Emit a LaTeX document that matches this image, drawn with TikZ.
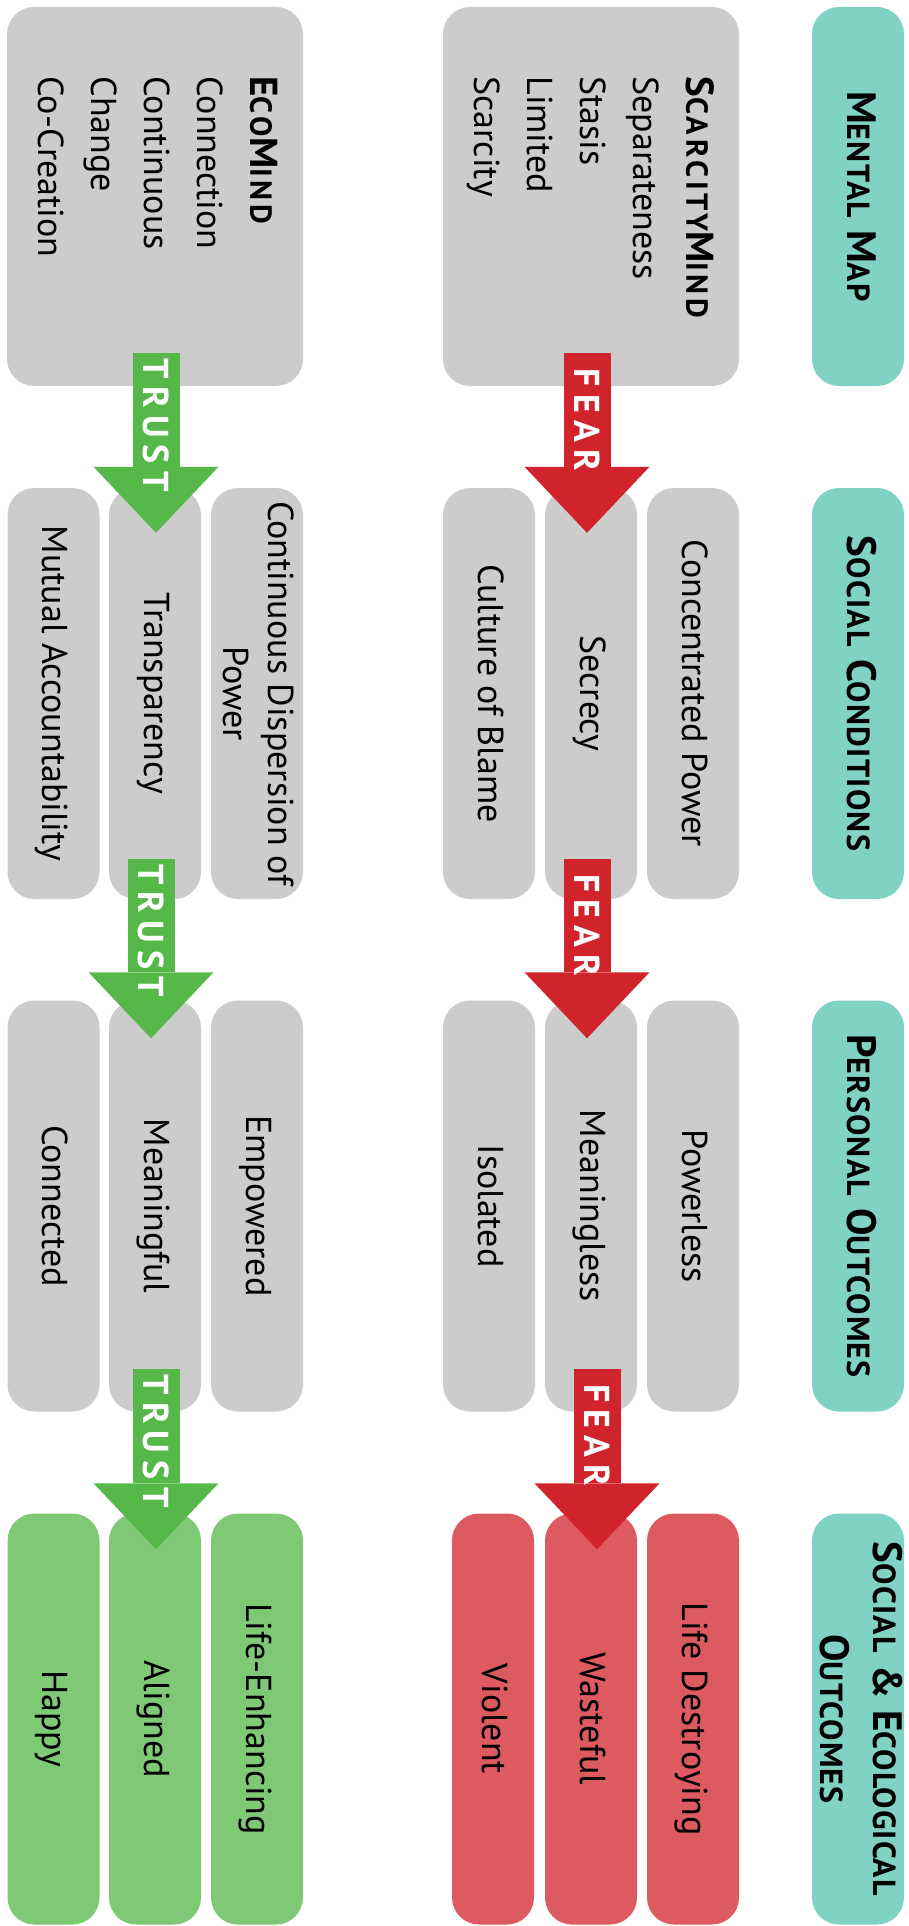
\documentclass[tikz,border=0pt]{standalone}
\usepackage{fontspec}
\setmainfont{PT Sans}
\usepackage{graphicx}
\usetikzlibrary{arrows.meta,calc}

\definecolor{boxgray}{HTML}{CCCCCC}
\definecolor{headteal}{HTML}{80D2C4}
\definecolor{redbox}{HTML}{DD5B60}
\definecolor{greenbox}{HTML}{7EC876}
\definecolor{fearred}{HTML}{D0232B}
\definecolor{trustgreen}{HTML}{57B84A}

\newcommand{\bodyfont}{\fontsize{36}{53}\selectfont}
\newcommand{\headfont}{\fontsize{41}{53}\selectfont\bfseries\addfontfeatures{LetterSpace=4}}
\newcommand{\mindfont}{\fontsize{39}{53}\selectfont\bfseries\addfontfeatures{LetterSpace=13}}
\newcommand{\arrowfont}{\fontsize{36}{36}\selectfont\bfseries\addfontfeatures{LetterSpace=20}}
% fake small caps: big letter, then smaller capitals
\makeatletter
\newcommand{\fsc}[2]{#1{\fontsize{\strip@pt\dimexpr0.78\dimexpr\f@size pt\relax\relax}{10}\selectfont #2}}
\makeatother
\newcommand{\vtext}[2][c]{\makebox[0pt]{\rotatebox{-90}{\begin{tabular}{@{}#1@{}}#2\end{tabular}}}}

\begin{document}
\begin{tikzpicture}[x=1pt, y=-1pt,
    box/.style={rounded corners=27pt, inner sep=0pt, font=\bodyfont,
      minimum width=92pt, minimum height=411pt},
    graybox/.style={box, fill=boxgray},
    headbox/.style={box, fill=headteal, font=\headfont},
    redcell/.style={box, fill=redbox},
    greencell/.style={box, fill=greenbox},
    fear/.style={draw=fearred, line width=47pt,
      -{Triangle[width=125pt, length=66pt, line width=0pt, color=fearred]}},
    trust/.style={draw=trustgreen, line width=47pt,
      -{Triangle[width=125pt, length=66pt, line width=0pt, color=trustgreen]}},
    arrowlabel/.style={rotate=-90, inner sep=0pt, text=white, font=\arrowfont}]

    \path[use as bounding box, fill=white] (0,0) rectangle (908,1926);

    % Header column
    \node[headbox, minimum height=379pt] (mental) at (858,196.5) {\vtext{\fsc{M}{ENTAL} \fsc{M}{AP}}};
    \node[headbox] (social) at (858,693.5) {\vtext{\fsc{S}{OCIAL} \fsc{C}{ONDITIONS}}};
    \node[headbox] (personal) at (858,1206) {\vtext{\fsc{P}{ERSONAL} \fsc{O}{UTCOMES}}};
    \node[headbox] (ecological) at (858,1719) {\vtext{\fsc{S}{OCIAL} \& \fsc{E}{COLOGICAL}\\\fsc{O}{UTCOMES}}};

    % Mental maps
    \node[graybox, minimum width=296pt, minimum height=379pt] (scarcity) at (591,196.5)
      {\vtext[p{240pt}]{{\mindfont\fsc{S}{CARCITY}\fsc{M}{IND}}\\Separateness\\Stasis\\Limited\\Scarcity}};
    \node[graybox, minimum width=296pt, minimum height=379pt] (ecomind) at (155,196.5)
      {\vtext[p{240pt}]{{\mindfont\fsc{E}{CO}\fsc{M}{IND}}\\Connection\\Continuous\\Change\\Co-Creation}};

    % Social conditions
    \node[graybox] (blame) at (489,693.5) {\vtext{Culture of Blame}};
    \node[graybox] (secrecy) at (591,693.5) {\vtext{Secrecy}};
    \node[graybox] (concentrated) at (693,693.5) {\vtext{Concentrated Power}};
    \node[graybox] (accountability) at (53.5,693.5) {\vtext{Mutual Accountability}};
    \node[graybox] (transparency) at (155,693.5) {\vtext{Transparency}};
    \node[graybox] (dispersion) at (257,693.5) {\vtext{Continuous Dispersion of\\[-8pt]Power}};

    % Personal outcomes
    \node[graybox] (isolated) at (489,1206) {\vtext{Isolated}};
    \node[graybox] (meaningless) at (591,1206) {\vtext{Meaningless}};
    \node[graybox] (powerless) at (693,1206) {\vtext{Powerless}};
    \node[graybox] (connected) at (53.5,1206) {\vtext{Connected}};
    \node[graybox] (meaningful) at (155,1206) {\vtext{Meaningful}};
    \node[graybox] (empowered) at (257,1206) {\vtext{Empowered}};

    % Social and ecological outcomes
    \node[redcell, minimum width=82pt] (violent) at (493,1719) {\vtext{Violent}};
    \node[redcell] (wasteful) at (591,1719) {\vtext{Wasteful}};
    \node[redcell] (destroying) at (693,1719) {\vtext{Life Destroying}};
    \node[greencell] (happy) at (53.5,1719) {\vtext{Happy}};
    \node[greencell] (aligned) at (155,1719) {\vtext{Aligned}};
    \node[greencell] (enhancing) at (257,1719) {\vtext{Life-Enhancing}};

    % Arrows
    \draw[fear] ($(scarcity.south)+(-4,-33)$) -- ($(secrecy.north)+(-4,45)$) node[arrowlabel, pos=0.37] {FEAR};
    \draw[trust] ($(ecomind.south)+(1,-33)$) -- ($(transparency.north)+(1,45)$) node[arrowlabel, pos=0.4] {TRUST};
    \draw[fear] ($(secrecy.south)+(-4,-40)$) -- ($(meaningless.north)+(-4,38)$) node[arrowlabel, pos=0.37] {FEAR};
    \draw[trust] ($(transparency.south)+(-4,-40)$) -- ($(meaningful.north)+(-4,38)$) node[arrowlabel, pos=0.4] {TRUST};
    \draw[fear] ($(meaningless.south)+(6,-43)$) -- ($(wasteful.north)+(6,36)$) node[arrowlabel, pos=0.37] {FEAR};
    \draw[trust] ($(meaningful.south)+(1,-43)$) -- ($(aligned.north)+(1,36)$) node[arrowlabel, pos=0.4] {TRUST};

\end{tikzpicture}
\end{document}
